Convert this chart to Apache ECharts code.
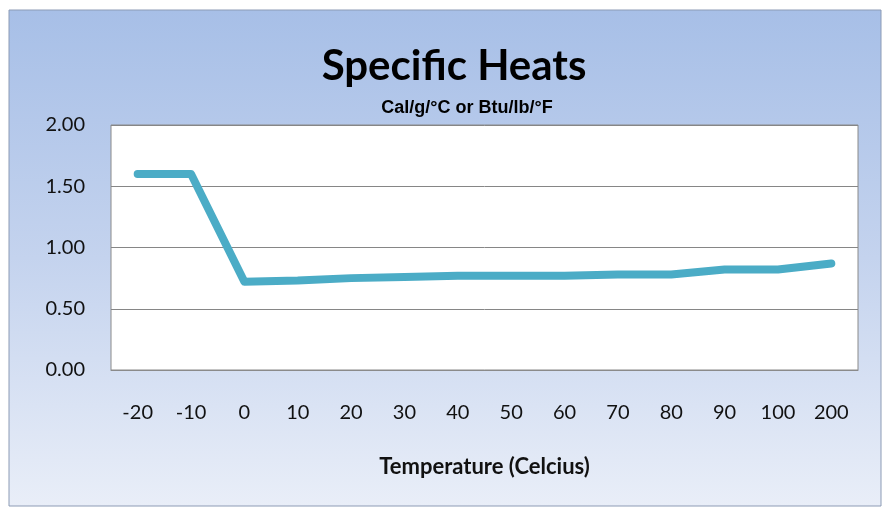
<!DOCTYPE html>
<html>
<head>
<meta charset="utf-8">
<script src="https://cdn.jsdelivr.net/npm/echarts@6/dist/echarts.min.js"></script>
<style>
  html, body { margin: 0; padding: 0; background: #fff; }
  #chart { width: 885px; height: 510px; }
</style>
</head>
<body>
<div id="chart"></div>
<script>
// Specific heat of water by temperature
var temperatures = ['-20', '-10', '0', '10', '20', '30', '40', '50', '60', '70', '80', '90', '100', '200'];
var specificHeat = [1.60, 1.60, 0.72, 0.73, 0.75, 0.76, 0.77, 0.77, 0.77, 0.78, 0.78, 0.82, 0.82, 0.87];
var yTicks = [0, 0.5, 1.0, 1.5, 2.0];

var myChart = echarts.init(document.getElementById('chart'));

var option = {
  animation: false,
  backgroundColor: '#fff',
  graphic: [
    {
      // blue panel behind the chart
      type: 'rect',
      z: -10,
      shape: { x: 9, y: 10, width: 872, height: 496 },
      style: {
        fill: new echarts.graphic.LinearGradient(0, 0, 0, 1, [
          { offset: 0, color: '#a7bfe7' },
          { offset: 0.5, color: '#c4d3ee' },
          { offset: 1, color: '#e9eef8' }
        ]),
        stroke: '#8c9bb5',
        lineWidth: 1
      }
    }
  ],
  title: [
    {
      text: 'Specific Heats',
      left: 449,
      textAlign: 'center',
      top: 40,
      textStyle: { fontFamily: 'Lato', fontWeight: 'bold', fontSize: 42, color: '#000' }
    },
    {
      text: 'Cal/g/°C or Btu/lb/°F',
      left: 462,
      textAlign: 'center',
      top: 94,
      textStyle: { fontFamily: 'Liberation Sans Narrow, Arial', fontWeight: 'bold', fontSize: 18, color: '#000' }
    }
  ],
  grid: {
    left: 111,
    right: 27,
    top: 125,
    bottom: 140,
    show: true,
    backgroundColor: '#fff',
    borderColor: '#8a8a8a',
    borderWidth: 1
  },
  xAxis: {
    type: 'category',
    data: temperatures,
    boundaryGap: true,
    name: 'Temperature (Celcius)',
    nameLocation: 'middle',
    nameGap: 86,
    nameTextStyle: { fontFamily: 'Lato', fontWeight: 'bold', fontSize: 22, color: '#111' },
    axisLine: { lineStyle: { color: '#8a8a8a' } },
    axisTick: { show: false },
    axisLabel: { fontFamily: 'Lato', fontSize: 20, color: '#111', margin: 33 }
  },
  yAxis: {
    type: 'value',
    min: yTicks[0],
    max: yTicks[yTicks.length - 1],
    interval: yTicks[1] - yTicks[0],
    axisLine: { show: false },
    axisTick: { show: false },
    splitLine: { lineStyle: { color: '#868686', width: 1 } },
    axisLabel: {
      fontFamily: 'Lato', fontSize: 20, color: '#111', margin: 26,
      formatter: function (v) { return v.toFixed(2); }
    }
  },
  series: [
    {
      type: 'line',
      data: specificHeat,
      symbol: 'none',
      lineStyle: { color: '#4bacc6', width: 8, cap: 'round', join: 'round' }
    }
  ]
};

myChart.setOption(option);
</script>
</body>
</html>
